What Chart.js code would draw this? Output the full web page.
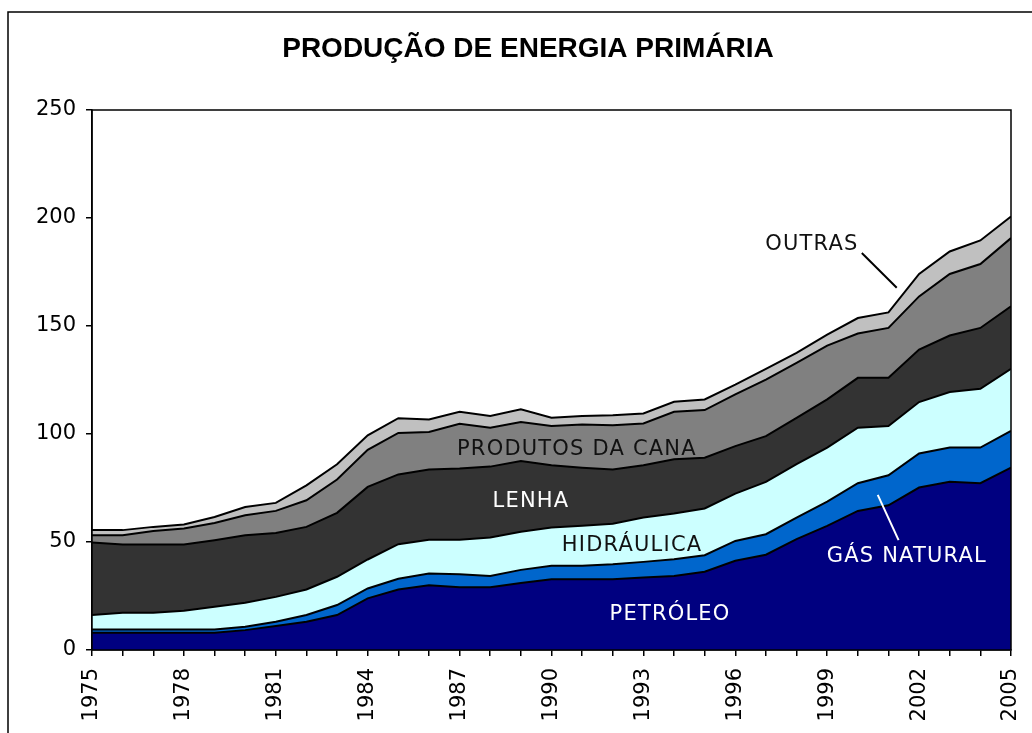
<!DOCTYPE html>
<html>
<head>
<meta charset="utf-8">
<script src="https://cdn.jsdelivr.net/npm/chart.js@4"></script>
<style>
  body { margin: 0; background: #fff; }
  #wrap { width: 1032px; height: 733px; }
</style>
</head>
<body>
<div id="wrap"><canvas id="energia" width="1032" height="733"></canvas></div>
<script>
// anos e producao por fonte (10^6 tep), empilhados de baixo para cima
var anos = [1975, 1976, 1977, 1978, 1979, 1980, 1981, 1982, 1983, 1984, 1985, 1986, 1987, 1988, 1989, 1990,
  1991, 1992, 1993, 1994, 1995, 1996, 1997, 1998, 1999, 2000, 2001, 2002, 2003, 2004, 2005];
var petroleo = [8.0, 8.0, 8.0, 8.0, 8.0, 9.2, 11.1, 13.1, 16.2, 23.9, 28.0, 30.0, 29.0, 29.0, 31.0, 32.8,
  32.8, 32.8, 33.6, 34.3, 36.2, 41.3, 44.1, 51.3, 57.5, 64.4, 67.0, 75.2, 77.9, 77.2, 84.4];
var gasNatural = [1.5, 1.5, 1.5, 1.5, 1.5, 1.6, 2.0, 3.1, 4.6, 4.6, 5.0, 5.4, 6.1, 5.3, 6.1, 6.2,
  6.2, 6.9, 7.2, 7.7, 7.7, 9.2, 9.5, 10.0, 11.2, 12.8, 13.9, 15.8, 15.8, 16.5, 17.0];
var hidraulica = [6.7, 7.8, 7.8, 8.7, 10.5, 11.1, 11.5, 11.8, 13.1, 13.4, 16.0, 15.6, 15.9, 17.8, 17.6, 17.7,
  18.5, 18.8, 20.5, 21.2, 21.6, 21.9, 24.2, 24.7, 25.0, 25.7, 22.8, 23.8, 25.7, 27.2, 28.8];
var lenha = [33.6, 31.5, 31.5, 30.6, 30.8, 31.2, 29.6, 29.0, 29.6, 33.6, 32.3, 32.6, 33.0, 32.8, 32.8, 28.8,
  26.9, 25.1, 24.2, 25.1, 23.5, 22.0, 21.2, 21.5, 22.3, 23.1, 22.3, 24.3, 26.2, 28.2, 28.9];
var cana = [3.3, 4.3, 6.3, 7.4, 8.0, 9.3, 10.2, 12.3, 15.4, 17.2, 19.2, 17.3, 20.7, 18.0, 18.0, 18.2,
  20.0, 20.4, 19.4, 22.0, 22.1, 23.9, 26.2, 25.4, 24.9, 20.5, 23.1, 24.6, 28.5, 29.6, 31.6];
var outras = [2.4, 2.4, 1.9, 1.9, 2.8, 3.8, 3.7, 6.9, 7.1, 6.7, 6.8, 5.8, 5.6, 5.4, 5.9, 3.8,
  3.9, 4.7, 4.6, 4.6, 4.9, 4.6, 5.0, 4.7, 5.1, 7.2, 7.2, 10.4, 10.4, 10.9, 10.0];

var titulo = "PRODUÇÃO DE ENERGIA PRIMÁRIA";

// rotulos dentro do grafico: [texto, ano, valor, cor]
var rotulos = [
  ["PRODUTOS DA CANA", 1990.83, 93.0, "#111"],
  ["LENHA", 1989.33, 68.9, "#fff"],
  ["HIDRÁULICA", 1992.63, 48.3, "#111"],
  ["PETRÓLEO", 1993.87, 16.3, "#fff"],
  ["GÁS NATURAL", 2001.60, 43.2, "#fff"],
  ["OUTRAS", 1998.50, 187.6, "#111"]
];
// linhas de chamada: [ano1, valor1, ano2, valor2, cor]
var chamadas = [
  [2000.13, 183.8, 2001.27, 167.7, "#000"],
  [2000.65, 71.8, 2001.33, 50.9, "#fff"]
];

function serie(nome, valores, cor, fill) {
  return {
    label: nome,
    data: valores,
    backgroundColor: cor,
    borderColor: "#000",
    borderWidth: 2,
    pointRadius: 0,
    tension: 0,
    fill: fill
  };
}

var moldura = {
  id: "moldura",
  afterDraw: function(chart) {
    var ctx = chart.ctx;
    var a = chart.chartArea;
    var x = chart.scales.x, y = chart.scales.y;
    ctx.save();
    // caixa da area de plotagem
    ctx.strokeStyle = "#000";
    ctx.lineWidth = 1.5;
    ctx.strokeRect(a.left, a.top, a.right - a.left, a.bottom - a.top);
    // borda externa
    ctx.strokeRect(8, 12, 1100, 800);

    // titulo
    ctx.fillStyle = "#000";
    ctx.font = "bold 28px 'Liberation Sans', Arial";
    ctx.textAlign = "center";
    ctx.textBaseline = "middle";
    ctx.fillText(titulo, 528, 49);

    chamadas.forEach(function(c) {
      ctx.beginPath();
      ctx.strokeStyle = c[4];
      ctx.lineWidth = 2;
      ctx.moveTo(x.getPixelForValue(c[0]), y.getPixelForValue(c[1]));
      ctx.lineTo(x.getPixelForValue(c[2]), y.getPixelForValue(c[3]));
      ctx.stroke();
    });

    ctx.font = "21px 'DejaVu Sans'";
    ctx.letterSpacing = "1.2px";
    rotulos.forEach(function(r) {
      ctx.fillStyle = r[3];
      ctx.fillText(r[0], x.getPixelForValue(r[1]), y.getPixelForValue(r[2]));
    });
    ctx.restore();
  }
};

var ctx = document.getElementById("energia").getContext("2d");
var chart = new Chart(ctx, {
  type: "line",
  data: {
    labels: anos,
    datasets: [
      serie("Petróleo", petroleo, "#000080", "origin"),
      serie("Gás natural", gasNatural, "#0066CC", "-1"),
      serie("Hidráulica", hidraulica, "#CCFFFF", "-1"),
      serie("Lenha", lenha, "#333333", "-1"),
      serie("Produtos da cana", cana, "#808080", "-1"),
      serie("Outras", outras, "#C0C0C0", "-1")
    ]
  },
  options: {
    responsive: false,
    animation: false,
    layout: { padding: { left: 0, right: 21, top: 110, bottom: 0 } },
    plugins: {
      legend: { display: false },
      tooltip: { enabled: false },
      title: { display: false }
    },
    scales: {
      x: {
        type: "linear",
        min: 1975,
        max: 2005,
        afterFit: function(s) {
          s.height = 83;
          s.paddingLeft = 0;
          s.paddingRight = 0;
        },
        border: { display: true, color: "#000", width: 1.5 },
        grid: { drawOnChartArea: false, drawTicks: true, tickLength: 6, color: "#000", lineWidth: 1.5 },
        ticks: {
          stepSize: 1,
          autoSkip: false,
          maxTicksLimit: 40,
          minRotation: 90,
          maxRotation: 90,
          padding: 12,
          color: "#000",
          font: { family: "'DejaVu Sans'", size: 21 },
          callback: function(v) { return (v - 1975) % 3 === 0 ? String(v) : ""; }
        }
      },
      y: {
        stacked: true,
        min: 0,
        max: 250,
        afterFit: function(s) {
          s.width = 92;
          s.paddingTop = 0;
          s.paddingBottom = 0;
        },
        border: { display: true, color: "#000", width: 1.5 },
        grid: { drawOnChartArea: false, drawTicks: true, tickLength: 6, color: "#000", lineWidth: 1.5 },
        ticks: {
          stepSize: 50,
          padding: 10,
          color: "#000",
          font: { family: "'DejaVu Sans'", size: 21 }
        }
      }
    }
  },
  plugins: [moldura]
});
</script>
</body>
</html>
